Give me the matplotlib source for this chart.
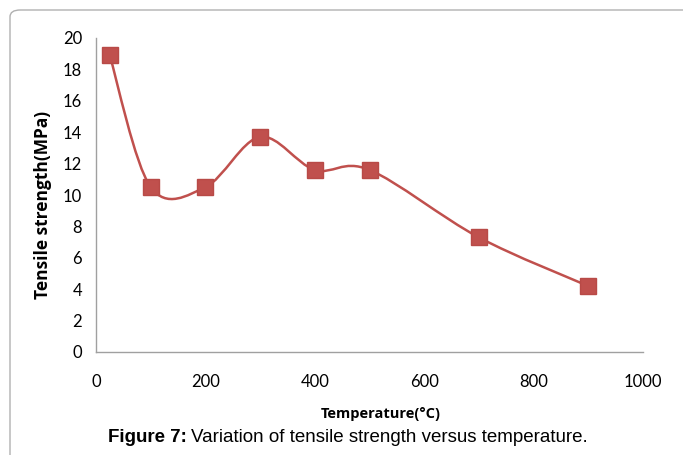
import matplotlib
matplotlib.use("Agg")
import matplotlib.pyplot as plt
import numpy as np
from matplotlib.path import Path
from matplotlib.patches import PathPatch, FancyBboxPatch

temperature = [25, 100, 200, 300, 400, 500, 700, 900]
strength = [18.9, 10.5, 10.5, 13.7, 11.6, 11.6, 7.3, 4.2]
xticks = [0, 200, 400, 600, 800, 1000]
yticks = [0, 2, 4, 6, 8, 10, 12, 14, 16, 18, 20]

W, H = 683, 455
fig = plt.figure(figsize=(W / 100, H / 100), dpi=100)

# outer border (rounded top-left corner, open to the right/bottom)
border = FancyBboxPatch((10 / W, -0.2), 1.2, 0.2 + (H - 10) / H,
                        boxstyle="round,pad=0,rounding_size=0.015",
                        transform=fig.transFigure, fill=False,
                        edgecolor="#b0b0b0", linewidth=1.0)
fig.patches.append(border)

ax = fig.add_axes([96 / W, 1 - 352 / H, (643 - 96) / W, (352 - 38) / H])
ax.set_xlim(0, 1000)
ax.set_ylim(0, 20)

# smooth curve (Catmull-Rom / Excel-like Bezier through the data points)
x = np.array(temperature, float)
y = np.array(strength, float)
pts = np.column_stack([x, y])
n = len(pts)
verts = [pts[0]]
codes = [Path.MOVETO]
for i in range(n - 1):
    p0 = pts[i - 1] if i > 0 else pts[i]
    p1 = pts[i]
    p2 = pts[i + 1]
    p3 = pts[i + 2] if i + 2 < n else pts[i + 1]
    c1 = p1 + (p2 - p0) / 6.0
    c2 = p2 - (p3 - p1) / 6.0
    verts += [c1, c2, p2]
    codes += [Path.CURVE4] * 3
color = "#C0504D"
ax.add_patch(PathPatch(Path(verts, codes), fill=False, edgecolor=color,
                       linewidth=1.8))
ax.plot(temperature, strength, linestyle="none", marker="s", markersize=11.5,
        markerfacecolor=color, markeredgecolor="#B84A47", zorder=3)

for s in ["top", "right"]:
    ax.spines[s].set_visible(False)
for s in ["left", "bottom"]:
    ax.spines[s].set_color("#a0a0a0")
    ax.spines[s].set_linewidth(1.0)

ax.set_xticks(xticks)
ax.set_yticks(yticks)
ax.set_xticklabels([str(t) for t in xticks], family="Lato", fontsize=12)
ax.set_yticklabels([str(t) for t in yticks], family="Lato", fontsize=12)
ax.tick_params(axis="both", length=0)
ax.tick_params(axis="x", pad=16)
ax.tick_params(axis="y", pad=10)

ax.set_ylabel("Tensile strength(MPa)", family="Open Sans", fontweight="bold",
              fontsize=12.5)
ax.yaxis.set_label_coords((43 - 96) / 547, (352 - 205) / 314)
ax.yaxis.label.set_va("center")
ax.set_xlabel("Temperature(°C)", family="Open Sans", fontweight="bold",
              fontsize=10.5)
ax.xaxis.set_label_coords((381 - 96) / 547, -(414 - 352) / 314)
ax.xaxis.label.set_va("center")

# caption
cap_y = 1 - 437 / H
t1 = fig.text(108 / W, cap_y, "Figure 7:", family="Liberation Sans",
              fontweight="bold", fontsize=13.5, ha="left", va="center")
fig.canvas.draw()
bb = t1.get_window_extent()
fig.text(bb.x1 / W + 4 / W, cap_y, "Variation of tensile strength versus temperature.",
         family="Liberation Sans", fontsize=13.5, ha="left", va="center")

fig.savefig("out.png", dpi=100)
